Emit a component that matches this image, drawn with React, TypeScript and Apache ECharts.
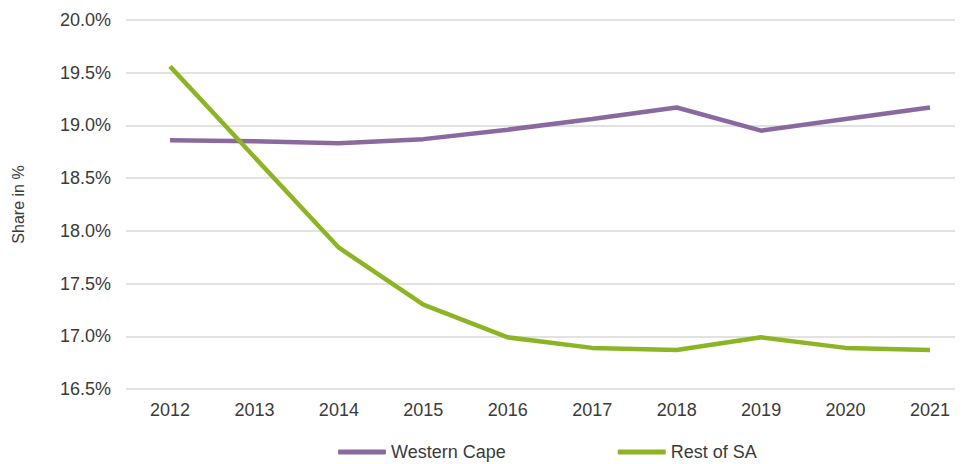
import React, { useEffect, useRef } from "react";
import * as echarts from "echarts";

const years = ["2012", "2013", "2014", "2015", "2016", "2017", "2018", "2019", "2020", "2021"];
const westernCape = [18.86, 18.85, 18.83, 18.87, 18.96, 19.06, 19.17, 18.95, 19.06, 19.17];
const restOfSA = [19.56, 18.7, 17.84, 17.3, 16.99, 16.89, 16.87, 16.99, 16.89, 16.87];
const seriesNames = ["Western Cape", "Rest of SA"];
const yMin = 16.5;
const yMax = 20.0;
const yStep = 0.5;

const PURPLE = "#8a6a9e";
const GREEN = "#8db425";
const TEXT = "#3a3a3a";

export default function App() {
  const ref = useRef<HTMLDivElement>(null);
  useEffect(() => {
    if (!ref.current) return;
    const chart = echarts.init(ref.current, undefined, { renderer: "svg" });
    const top = 20;
    const bottom = 75;
    chart.setOption({
      animation: false,
      textStyle: { fontFamily: "Arial, 'Liberation Sans', sans-serif" },
      legend: {
        top: 438,
        left: 333,
        itemWidth: 48,
        itemHeight: 5,
        itemGap: 112,
        icon: "roundRect",
        textStyle: { color: TEXT, fontSize: 18 },
        data: seriesNames,
      },
      grid: [
        { left: 170, right: 33, top, bottom },
        { left: 126, right: 8, top, bottom },
      ],
      xAxis: [
        {
          type: "category",
          gridIndex: 0,
          data: years,
          boundaryGap: false,
          axisLine: { show: false },
          axisTick: { show: false },
          axisLabel: { color: TEXT, fontSize: 18, margin: 12 },
        },
        {
          type: "value",
          gridIndex: 1,
          show: false,
          min: 0,
          max: 1,
        },
      ],
      yAxis: [
        {
          type: "value",
          gridIndex: 0,
          min: yMin,
          max: yMax,
          interval: yStep,
          show: false,
          splitLine: { show: false },
        },
        {
          type: "value",
          gridIndex: 1,
          min: yMin,
          max: yMax,
          interval: yStep,
          name: "Share in %",
          nameLocation: "middle",
          nameRotate: 90,
          nameGap: 100,
          nameTextStyle: { color: TEXT, fontSize: 16 },
          axisLine: { show: false },
          axisTick: { show: false },
          axisLabel: {
            color: TEXT,
            fontSize: 18,
            margin: 15,
            formatter: (v: number) => v.toFixed(1) + "%",
          },
          splitLine: { lineStyle: { color: "#d9d9d9", width: 1.5 } },
        },
      ],
      series: [
        {
          name: seriesNames[0],
          type: "line",
          xAxisIndex: 0,
          yAxisIndex: 0,
          data: westernCape,
          symbol: "none",
          lineStyle: { color: PURPLE, width: 4.5 },
          itemStyle: { color: PURPLE },
        },
        {
          name: seriesNames[1],
          type: "line",
          xAxisIndex: 0,
          yAxisIndex: 0,
          data: restOfSA,
          symbol: "none",
          lineStyle: { color: GREEN, width: 4.5 },
          itemStyle: { color: GREEN },
        },
      ],
    });
    return () => chart.dispose();
  }, []);
  return <div ref={ref} style={{ width: 963, height: 464, position: "absolute", left: 0, top: 0 }} />;
}
